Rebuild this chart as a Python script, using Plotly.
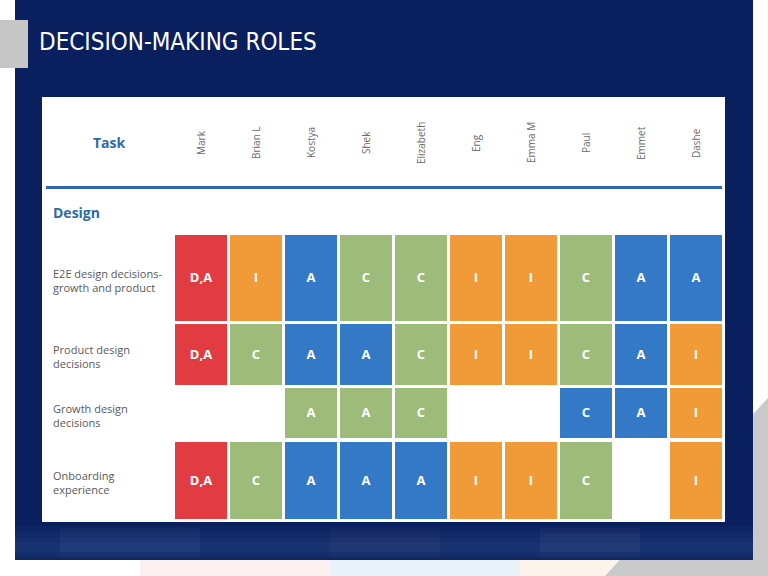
import plotly.graph_objects as go

# ---------------- data ----------------
people = ["Mark", "Brian L", "Kostya", "Shek", "Elizabeth", "Eng", "Emma M", "Paul", "Emmet", "Dashe"]
tasks = ["E2E design decisions-<br>growth and product",
         "Product design<br>decisions",
         "Growth design<br>decisions",
         "Onboarding<br>experience"]
section = "Design"

# role letters per task row (empty = no cell)
roles = [
    ["D,A", "I", "A", "C", "C", "I", "I", "C", "A", "A"],
    ["D,A", "C", "A", "A", "C", "I", "I", "C", "A", "I"],
    ["",    "",  "A", "A", "C", "",  "",  "C", "A", "I"],
    ["D,A", "C", "A", "A", "A", "I", "I", "C", "",  "I"],
]
# colour key per cell (r=red, o=orange, b=blue, g=green)
color_keys = [
    ["r", "o", "b", "g", "g", "o", "o", "g", "b", "b"],
    ["r", "g", "b", "b", "g", "o", "o", "g", "b", "o"],
    ["",  "",  "g", "g", "g", "",  "",  "b", "b", "o"],
    ["r", "g", "b", "b", "b", "o", "o", "g", "",  "o"],
]

# ---------------- layout constants ----------------
W, H = 768, 576
palette = {"r": "#e13c42", "o": "#f19a38", "b": "#3379c5", "g": "#9dbb79"}
row_top = [235, 324, 388, 442]       # pixel-like y units (axis reversed)
row_h = [86, 61, 50, 77]
col_px0, col_pitch = 201, 55
navy = "#0a1f5e"

fig = go.Figure()

# cells: one bar trace per colour
for key, col in palette.items():
    xs, bases, hs = [], [], []
    for r in range(len(tasks)):
        for c in range(len(people)):
            if color_keys[r][c] == key:
                xs.append(people[c])
                bases.append(row_top[r])
                hs.append(row_h[r])
    fig.add_trace(go.Bar(x=xs, y=hs, base=bases, width=0.945,
                         marker=dict(color=col, line=dict(width=0)),
                         hoverinfo="skip", showlegend=False))

# letters
tx, ty, tt = [], [], []
for r in range(len(tasks)):
    for c in range(len(people)):
        if roles[r][c]:
            tx.append(people[c])
            ty.append(row_top[r] + row_h[r] / 2 + 1)
            tt.append("<b>" + roles[r][c] + "</b>")
fig.add_trace(go.Scatter(x=tx, y=ty, text=tt, mode="text",
                         textfont=dict(family="Open Sans", size=13, color="white"),
                         hoverinfo="skip", showlegend=False))

shapes = []
def rect(x0, y0, x1, y1, color, layer="below", opacity=1):
    shapes.append(dict(type="rect", xref="paper", yref="paper",
                       x0=x0 / W, x1=x1 / W, y0=1 - y1 / H, y1=1 - y0 / H,
                       fillcolor=color, line=dict(width=0), layer=layer, opacity=opacity))

# faint pastel strip below panel
rect(140, 560, 330, 576, "#fbe9ea", opacity=0.7)
rect(330, 560, 520, 576, "#e3eef8", opacity=0.8)
rect(520, 560, 620, 576, "#fbefe3", opacity=0.7)
# grey diagonal at bottom right
shapes.append(dict(type="path", xref="paper", yref="paper",
                   path=f"M {605/W},{0} L {1},{1-398/H} L {1},{0} Z",
                   fillcolor="#c9c9c9", line=dict(width=0), layer="below"))
# navy panel
rect(15, 0, 753, 560, navy)
# soft bottom glow
for a, b, op in [(526, 560, 0.06), (532, 558, 0.06), (538, 555, 0.06), (543, 552, 0.05)]:
    rect(15, a, 753, b, "#5a80c0", opacity=op)
for x0, x1, c in [(60, 200, "#6f8fc8"), (330, 440, "#7a5a9a"), (540, 640, "#8a8aa8")]:
    for a, b, op in [(528, 558, 0.05), (534, 552, 0.05)]:
        rect(x0, a, x1, b, c, opacity=op)
# grey tab at left
rect(0, 20, 28, 68, "#c6c6c6", layer="above")
# white table area
rect(42, 97, 725, 522, "white")
# header rule
shapes.append(dict(type="line", xref="paper", yref="paper",
                   x0=46 / W, x1=722 / W, y0=1 - 187.5 / H, y1=1 - 187.5 / H,
                   line=dict(color="#2f68ad", width=3), layer="below"))

annotations = []
annotations.append(dict(text="DECISION-MAKING ROLES", xref="paper", yref="paper",
                        x=37 / W, y=1 - 42 / H, xanchor="left", yanchor="middle",
                        showarrow=False,
                        font=dict(family="DejaVu Sans Condensed", size=24, color="white")))
annotations.append(dict(text="<b>Task</b>", xref="paper", yref="paper",
                        x=109 / W, y=1 - 143 / H, xanchor="center", yanchor="middle",
                        showarrow=False, font=dict(family="Open Sans", size=14, color="#2f6aa8")))
annotations.append(dict(text="<b>" + section + "</b>", xref="paper", yref="paper",
                        x=51 / W, y=1 - 212 / H, xanchor="left", yanchor="middle",
                        showarrow=False, font=dict(family="Open Sans", size=14, color="#2f6aa8")))
for p in people:
    annotations.append(dict(text=p, x=p, y=143, xref="x", yref="y", textangle=-90,
                            xanchor="center", yanchor="middle", showarrow=False,
                            font=dict(family="Open Sans", size=10, color="#6a6a6a")))
for r, t in enumerate(tasks):
    annotations.append(dict(text=t, xref="paper", y=row_top[r] + row_h[r] / 2 + 2, yref="y",
                            x=51 / W, xanchor="left", yanchor="middle", align="left",
                            showarrow=False,
                            font=dict(family="Open Sans", size=11, color="#595959")))

fig.update_layout(
    width=W, height=H, margin=dict(l=0, r=0, t=0, b=0),
    paper_bgcolor="white", plot_bgcolor="rgba(0,0,0,0)",
    barmode="overlay", shapes=shapes, annotations=annotations,
    xaxis=dict(type="category", categoryorder="array", categoryarray=people,
               range=[-col_px0 / col_pitch, (W - col_px0) / col_pitch],
               visible=False, fixedrange=True),
    yaxis=dict(range=[H, 0], visible=False, fixedrange=True),
)

fig.write_html("out.html", config={"displayModeBar": False},
               post_script="document.body.style.margin='0';document.body.style.overflow='hidden';")
